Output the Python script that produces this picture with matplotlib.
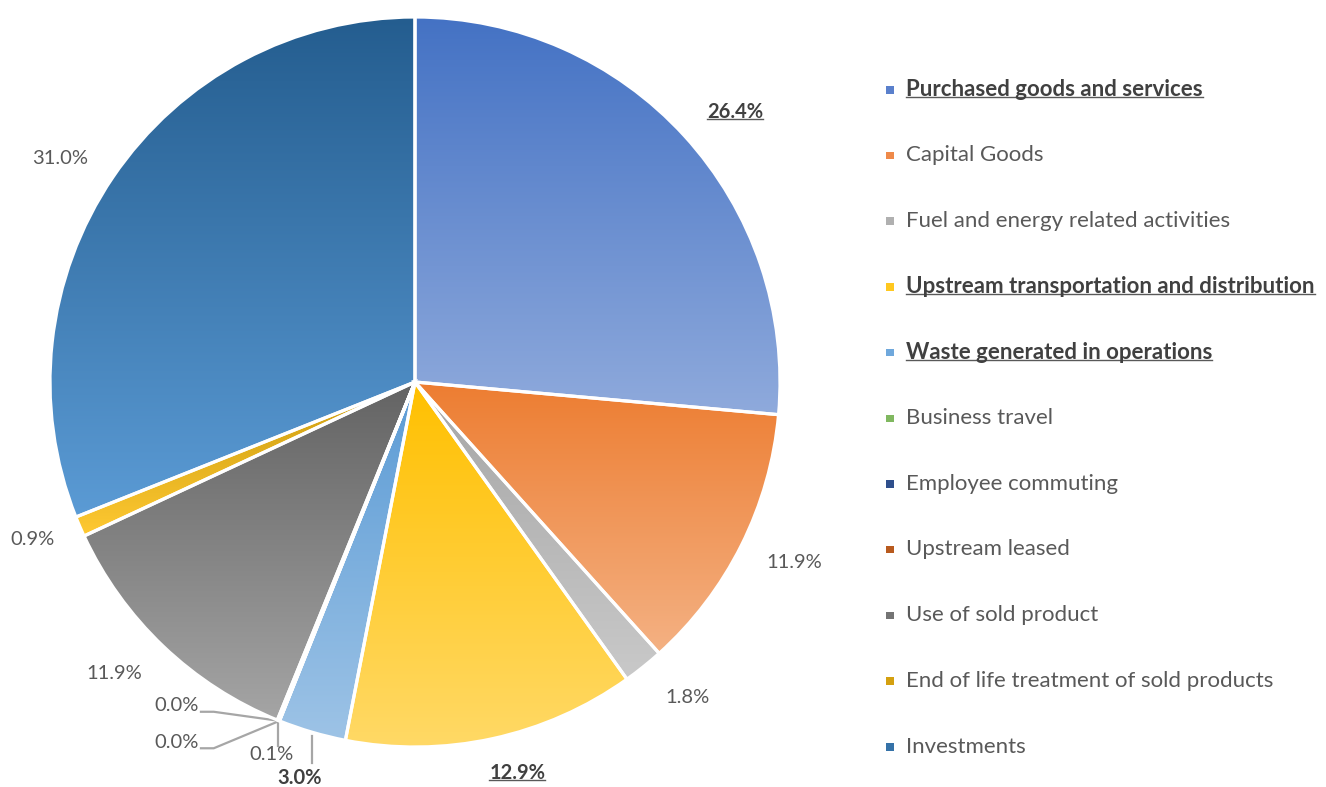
import numpy as np
import matplotlib
matplotlib.use("Agg")
import matplotlib.pyplot as plt
from matplotlib.colors import to_rgb
from matplotlib.patches import Rectangle
from matplotlib.lines import Line2D

categories = [
    "Purchased goods and services",
    "Capital Goods",
    "Fuel and energy related activities",
    "Upstream transportation and distribution",
    "Waste generated in operations",
    "Business travel",
    "Employee commuting",
    "Upstream leased",
    "Use of sold product",
    "End of life treatment of sold products",
    "Investments",
]
shares = [26.4, 11.9, 1.8, 12.9, 3.0, 0.0, 0.0, 0.1, 11.9, 0.9, 31.0]
highlight = [True, False, False, True, True, False, False, False, False, False, False]

# top (dark) and bottom (light) colour of each slice gradient
top_colors = ["#4472C4", "#ED7D31", "#A5A5A5", "#FFC000", "#5B9BD5", "#70AD47",
              "#264478", "#9E480E", "#636363", "#C99A0E", "#245D8F"]
bottom_colors = ["#8FAADC", "#F4B183", "#C9C9C9", "#FFD966", "#9DC3E6", "#A9D18E",
                 "#4472C4", "#ED7D31", "#A5A5A5", "#FFC932", "#5B9BD5"]
legend_colors = ["#5A80CC", "#EF8A4A", "#B0B0B0", "#FFC81F", "#6FA8DC", "#80B860",
                 "#2F4F8C", "#B85A1E", "#747474", "#D4A010", "#3572A8"]

# label placement (radius, angle nudge in degrees) for the outside labels
label_r = {0: 1.147, 1: 1.152, 2: 1.142, 3: 1.108, 8: 1.149, 9: 1.134, 10: 1.15}
label_nudge = {0: -2.3, 1: 1.1, 2: 2.0, 3: 2.4, 8: -2.3, 9: -1.0, 10: 1.9}

plt.rcParams['font.family'] = ['Lato', 'DejaVu Sans']
TXT = "#595959"
BOLD = "#404040"

fig = plt.figure(figsize=(13.26, 7.87), dpi=100)
W, H = 1326, 787
cx, cy, R = 415, 382, 365
ax = fig.add_axes([(cx - R) / W, 1 - (cy + R) / H, 2 * R / W, 2 * R / H])
ax.axis('off')

wedges, _ = ax.pie(shares, startangle=90, counterclock=False, radius=1,
                   wedgeprops=dict(edgecolor='white', linewidth=2.3, facecolor='none', zorder=3))

for w, c_top, c_bot in zip(wedges, top_colors, bottom_colors):
    ext = w.get_path().get_extents()
    if ext.height <= 0 or ext.width <= 0:
        continue
    t = np.linspace(0, 1, 256)[:, None]
    a = np.array(to_rgb(c_bot))
    b = np.array(to_rgb(c_top))
    grad = (a[None, None, :] * (1 - t[..., None]) + b[None, None, :] * t[..., None])
    grad = np.repeat(grad, 2, axis=1)
    im = ax.imshow(grad, extent=(ext.x0, ext.x1, ext.y0, ext.y1), origin='lower',
                   aspect='auto', zorder=1, interpolation='bilinear')
    im.set_clip_path(w)
ax.set_xlim(-1, 1)
ax.set_ylim(-1, 1)
ax.set_aspect('equal')

# percentage labels
total = sum(shares)
cum = np.cumsum([0] + shares)
underlined = []
label_font = 14.5
for i, v in enumerate(shares):
    if i not in label_r:
        continue
    mid = np.deg2rad(90 - (cum[i] + v / 2) / total * 360 + label_nudge[i])
    r = label_r[i]
    bold = i in (0, 3)
    t = ax.text(r * np.cos(mid), r * np.sin(mid), f"{v:.1f}%", ha='center', va='center',
                fontsize=label_font, color=BOLD if bold else TXT,
                fontweight='bold' if bold else 'normal', clip_on=False)
    if bold:
        underlined.append(t)

# small slices at the bottom with leader lines
def edge_point(i):
    ang = np.deg2rad(90 - (cum[i] + shares[i] / 2) / total * 360)
    return np.cos(ang), np.sin(ang)

lc = "#A6A6A6"
# waste 3.0%
ex, ey = edge_point(4)
ax.plot([ex, ex], [ey - 0.01, ey - 0.085], color=lc, lw=1.6, clip_on=False)
ax.text(ex - 0.035, ey - 0.125, f"{shares[4]:.1f}%", ha='center', va='center',
        fontsize=label_font, fontweight='bold', color=BOLD, clip_on=False)
# upstream leased 0.1%
ex, ey = edge_point(7)
ax.plot([ex, ex], [ey - 0.005, ey - 0.07], color=lc, lw=1.6, clip_on=False)
ax.text(ex - 0.02, ey - 0.092, f"{shares[7]:.1f}%", ha='center', va='center',
        fontsize=label_font, color=TXT, clip_on=False)
# business travel / employee commuting 0.0%
for i, dy in ((5, 0.025), (6, -0.075)):
    ex, ey = edge_point(i)
    ax.plot([ex, ex - 0.18, ex - 0.215], [ey, ey + dy, ey + dy], color=lc, lw=1.6, clip_on=False)
    ax.text(ex - 0.222, ey + dy + 0.017, f"{shares[i]:.1f}%", ha='right', va='center',
            fontsize=label_font, color=TXT, clip_on=False)

# legend
leg_top = 1 - 89.5 / H
leg_step = 65.7 / H
for i, (name, col) in enumerate(zip(categories, legend_colors)):
    y = leg_top - i * leg_step
    fig.patches.append(Rectangle((886 / W, y - 4 / H), 7.5 / W, 7.5 / H, transform=fig.transFigure,
                                 facecolor=col, edgecolor='none'))
    bold = highlight[i]
    t = fig.text(906 / W, y, name, ha='left', va='center', fontsize=16,
                 color=BOLD if bold else TXT, fontweight='bold' if bold else 'normal')
    if bold:
        underlined.append(t)

# underline highlighted texts
fig.canvas.draw()
r = fig.canvas.get_renderer()
for t in underlined:
    bb = t.get_window_extent(r)
    y = bb.y0 + 3
    fig.lines.append(Line2D([bb.x0 / W, bb.x1 / W], [y / H, y / H], transform=fig.transFigure,
                            color="#595959", lw=1.0))

fig.savefig("out.png", dpi=100)
